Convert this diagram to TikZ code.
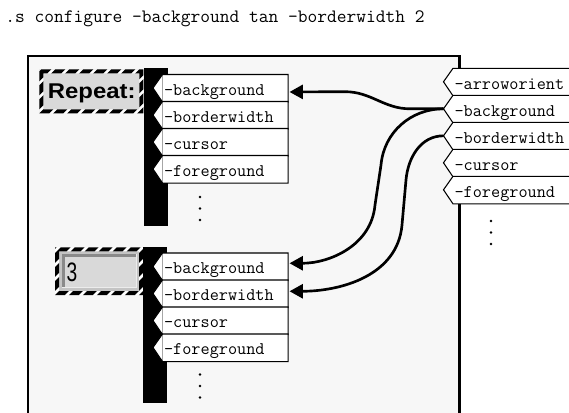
\documentclass[tikz,border=0pt]{standalone}
\usepackage{fontspec}
\newfontfamily\uisans{Liberation Sans}
\usetikzlibrary{arrows.meta,calc}

\definecolor{panelbg}{HTML}{F7F7F7}
\definecolor{widgetgray}{HTML}{D9D9D9}
\definecolor{bandgray}{HTML}{C4C4C4}
\definecolor{darkedge}{HTML}{8A8A8A}

\tikzset{
  tabbox/.style={rectangle, anchor=north west, fill=white, inner xsep=1pt, inner ysep=0pt,
    minimum height=20.25pt, text height=10.5pt, text depth=0pt, align=left,
    font=\ttfamily\fontsize{13.3}{14}\selectfont},
  tabedge/.style={draw=black, line width=0.8pt, line join=miter},
  stripe/.style={line width=5.2pt, black},
  conn/.style={line width=2pt, -{Triangle[length=10pt,width=10.5pt]}},
  bar/.style={fill=black},
  dotmark/.style={fill=black},
}

% one option tab: name, left x, top y, text width, label
\newcommand\optab[5]{%
  \node[tabbox, text width=#4] (#1) at (#2,#3) {#5};
  \fill[white] (#1.north west) -- ++(-9.5,13.5) -- (#1.south west) -- cycle;
  \draw[tabedge] (#1.north east) -- (#1.north west) -- ++(-9.5,13.5) coordinate (#1-tip)
    -- (#1.south west) -- (#1.south east) -- cycle;
}

% striped selection frame, 4px thick, given by its outer corners
\newcommand\stripeframe[4]{%
  \begin{scope}[even odd rule]
    \clip (#1,#2) rectangle (#3,#4) (#1+4,#2+4) rectangle (#3-4,#4-4);
    \fill[white] (#1,#2) rectangle (#3,#4);
    \foreach \s in {-70,-56,...,140} \draw[stripe] (#1+\s,#4+5) -- ++(60,-60);
  \end{scope}
}

\begin{document}
\begin{tikzpicture}[x=0.75pt,y=-0.75pt]
\useasboundingbox (0,0) rectangle (569,412);
\clip (0,0) rectangle (569,412);
\fill[white] (0,0) rectangle (569,412);

% command line
\node[anchor=base west, inner sep=0pt, font=\ttfamily\fontsize{14.2}{16}\selectfont]
  (cmd) at (5,22.7) {.s configure -background tan -borderwidth 2};

% window panel
\draw[line width=1.9pt, fill=panelbg] (28,55.8) rectangle (459.5,440);

% "Repeat:" label with its selection frame
\fill[widgetgray] (39.3,69.3) rectangle (143.3,113.3);
\node[anchor=base, inner sep=0pt, font=\uisans\bfseries\fontsize{16}{18}\selectfont]
  (replabel) at (91.7,98.3) {\scalebox{1.12}[1]{Repeat:}};
\stripeframe{39.3}{69.3}{143.3}{113.3}

% entry widget with its selection frame
\fill[bandgray] (59,251.3) rectangle (139,291);
\fill[widgetgray] (62,254) rectangle (137,288);
\draw[darkedge, line width=2.2pt] (63.4,288) -- (63.4,255.4) -- (137,255.4);
\draw[white!85!gray, line width=1pt] (62,287.3) -- (136.3,287.3) -- (136.3,254);
\node[anchor=base, inner sep=0pt, font=\uisans\fontsize{20}{22}\selectfont]
  (entrytext) at (72,281.7) {\scalebox{0.72}[1]{3}};
\stripeframe{55}{247.3}{143}{295}

% option stacks of the two widgets
\fill[bar] (143.5,68.3) rectangle (167.5,225.7);
\fill[bar] (143.3,246.7) rectangle (167.2,403.3);

\optab{Lbg}{162.5}{74.5}{91.75pt}{-background}
\optab{Lbw}{162.5}{101.5}{91.75pt}{-borderwidth}
\optab{Lcur}{162.5}{128.5}{91.75pt}{-cursor}
\optab{Lfg}{162.5}{155.5}{91.75pt}{-foreground}

\optab{Mbg}{162.5}{253}{91.75pt}{-background}
\optab{Mbw}{162.5}{280}{91.75pt}{-borderwidth}
\optab{Mcur}{162.5}{307}{91.75pt}{-cursor}
\optab{Mfg}{162.5}{334}{91.75pt}{-foreground}

% option list of the configure command
\optab{Rarr}{453}{68.3}{95.5pt}{-arroworient}
\optab{Rbg}{453}{95.3}{95.5pt}{-background}
\optab{Rbw}{453}{122.3}{95.5pt}{-borderwidth}
\optab{Rcur}{453}{149.3}{95.5pt}{-cursor}
\optab{Rfg}{453}{176.3}{95.5pt}{-foreground}

% continuation dots
\foreach \yy in {197,208.5,220} \fill[dotmark] (200,\yy) circle[radius=1pt];
\foreach \yy in {374.5,386,397.5} \fill[dotmark] (200,\yy) circle[radius=1pt];
\foreach \yy in {221,232.5,244} \fill[dotmark] (491,\yy) circle[radius=1pt];

% option values flowing to the widgets
\draw[conn] (Rbg-tip) -- (410,108.8) to[out=180,in=0] (345,91.7) -- ($(Lbg.east)+(1.5,3.7)$);
\draw[conn] (Rbg-tip) to[out=180,in=85] (381,165) -- (375,205) to[out=-95,in=0] ($(Mbg.east)+(1.5,-3.5)$);
\draw[conn] (Rbw-tip) to[out=180,in=85] (406,180) -- (402,225) to[out=-95,in=0] ($(Mbw.east)+(1.5,-2.5)$);
\end{tikzpicture}
\end{document}
